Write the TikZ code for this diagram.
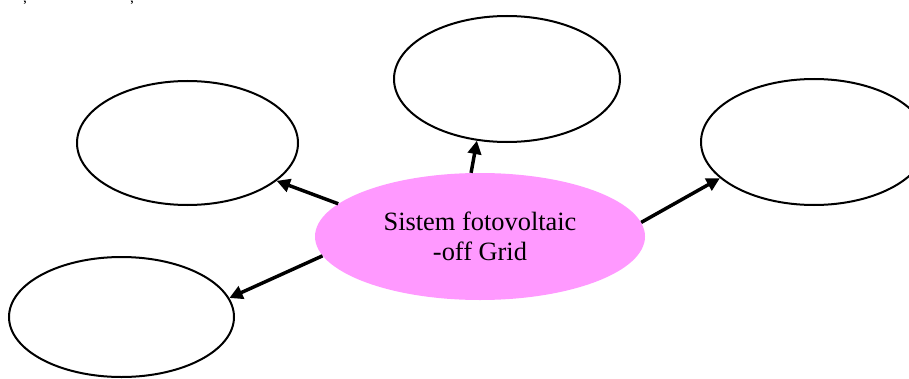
\documentclass[tikz,border=0pt]{standalone}
\usepackage{fontspec}
\setmainfont{Liberation Serif}
\usetikzlibrary{shapes.geometric,arrows.meta}
\definecolor{pinkfill}{RGB}{255,153,255}
\tikzset{
  emptyoval/.style={ellipse,draw=black,line width=1.5pt,fill=white,inner sep=0pt},
  centeroval/.style={ellipse,fill=pinkfill,draw=none,inner sep=0pt,align=center,
    font=\fontsize{19.8pt}{22.5pt}\selectfont},
  link/.style={line width=2.6pt,-{Triangle[length=10pt,width=10pt]}},
  cutnote/.style={anchor=base,inner sep=0pt,font=\fontsize{14pt}{16pt}\selectfont}
}
\begin{document}
\begin{tikzpicture}[x=0.75pt,y=-0.75pt]
\useasboundingbox (0,0) rectangle (909,378);
\clip (0,0) rectangle (909,378);
\fill[white] (0,0) rectangle (909,378);
\node[cutnote] (s1) at (25,0.5) {ș};
\node[cutnote] (s2) at (132,0.5) {ș};
\node[emptyoval,minimum width=169.5pt,minimum height=94.5pt] (top) at (507,79) {};
\node[emptyoval,minimum width=165.75pt,minimum height=93pt] (ul) at (187.5,143) {};
\node[emptyoval,minimum width=168.75pt,minimum height=90pt] (ll) at (121.5,317) {};
\node[emptyoval,minimum width=169.5pt,minimum height=94.5pt] (rt) at (814,142) {};
\node[centeroval,minimum width=247.5pt,minimum height=95.25pt] (c) at (480,236.5) {Sistem fotovoltaic\\-off Grid};
\draw[link] (c.98.9) -- (top.244.5);
\draw[link] (c.167.9) -- (ul.337.5);
\draw[link] (c.187.7) -- (ll.10.3);
\draw[link] (c.5.2) -- (rt.201.1);
\end{tikzpicture}
\end{document}
